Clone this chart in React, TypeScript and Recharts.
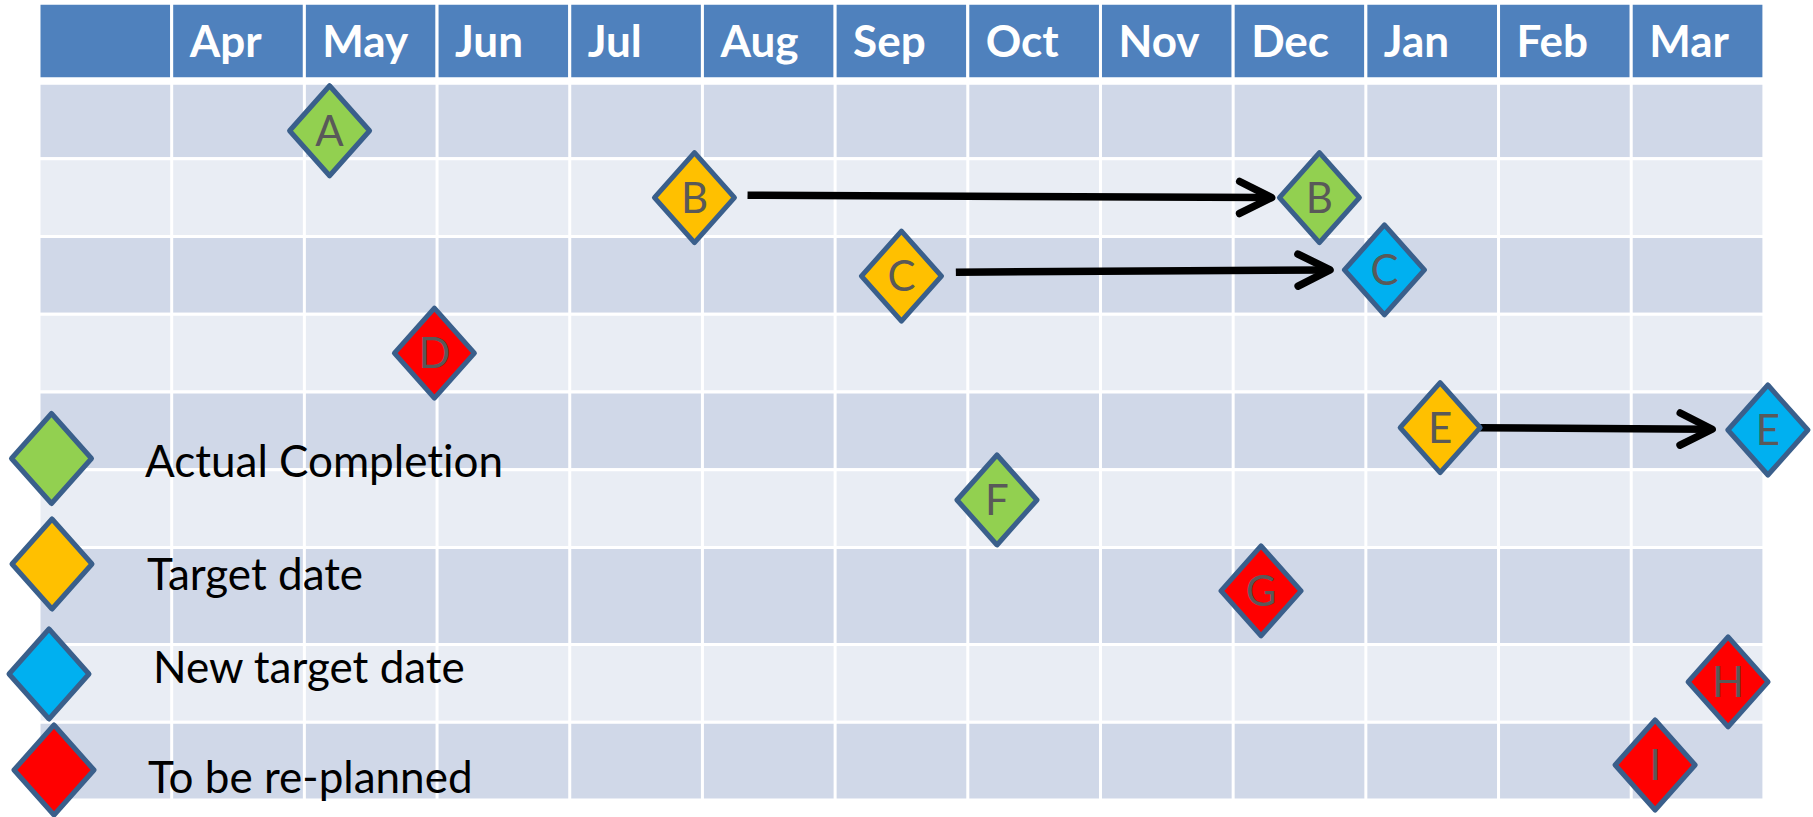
import React from 'react';
import {
  ScatterChart,
  Scatter,
  XAxis,
  YAxis,
  ReferenceArea,
  ReferenceLine,
  Legend,
} from 'recharts';

// ---------- data ----------
const months = ['Apr', 'May', 'Jun', 'Jul', 'Aug', 'Sep', 'Oct', 'Nov', 'Dec', 'Jan', 'Feb', 'Mar'];

// month: 0 = start of Apr, 12 = end of Mar ; row: 0 = top of first task row
const actualCompletion = [
  { task: 'A', month: 1.19, row: 0.64 },
  { task: 'B', month: 8.65, row: 1.5 },
  { task: 'F', month: 6.22, row: 5.39 },
];
const targetDate = [
  { task: 'B', month: 3.94, row: 1.5 },
  { task: 'C', month: 5.5, row: 2.51 },
  { task: 'E', month: 9.56, row: 4.46 },
];
const newTargetDate = [
  { task: 'C', month: 9.14, row: 2.43 },
  { task: 'E', month: 12.03, row: 4.49 },
];
const toBeReplanned = [
  { task: 'D', month: 1.98, row: 3.5 },
  { task: 'G', month: 8.21, row: 6.56 },
  { task: 'H', month: 11.73, row: 7.73 },
  { task: 'I', month: 11.18, row: 8.8 },
];
const reschedules = [
  { task: 'B', from: 4.34, to: 8.29, fromRow: 1.47, toRow: 1.5 },
  { task: 'C', from: 5.91, to: 8.73, fromRow: 2.46, toRow: 2.43 },
  { task: 'E', from: 9.86, to: 11.61, fromRow: 4.46, toRow: 4.48 },
];

// ---------- layout / style ----------
const W = 1813;
const H = 817;
const ROW_EDGES = [0.03, 1, 2, 3, 4, 5, 6, 7.25, 8.25, 9.25];
const HEADER = '#4F81BD';
const DARK = '#D0D8E8';
const LIGHT = '#E9EDF4';
const EDGE = '#3A5F8B';
const FONT = 'Lato, "Open Sans", sans-serif';
const NO_LIG: React.CSSProperties = { fontVariantLigatures: 'none', fontFeatureSettings: '"liga" 0, "clig" 0' };

const COLORS = {
  actual: '#92D050',
  target: '#FFC000',
  newTarget: '#00B0F0',
  replan: '#FF0000',
};

const LEGEND_TOP = 380;
const LEGEND_LAYOUT: Record<string, { dx: number; dy: number; tx: number; ty: number }> = {
  'Actual Completion': { dx: 51.5, dy: 458.5, tx: 145, ty: 477 },
  'Target date': { dx: 52, dy: 564, tx: 147, ty: 590 },
  'New target date': { dx: 49, dy: 674, tx: 153, ty: 683 },
  'To be re-planned': { dx: 54, dy: 770, tx: 148, ty: 793 },
};

const diamondPath = (cx: number, cy: number) =>
  `M${cx},${cy - 45} L${cx + 40},${cy} L${cx},${cy + 45} L${cx - 40},${cy} Z`;

const makeDiamond = (color: string) => (props: any) => {
  const { cx, cy, payload } = props;
  if (cx == null || cy == null) return <g />;
  return (
    <g>
      <path d={diamondPath(cx, cy)} fill={color} stroke={EDGE} strokeWidth={5} strokeLinejoin="round" />
      <text x={cx} y={cy + 15} textAnchor="middle" fontFamily={FONT} fontSize={42} fill="#595959">
        {payload?.task}
      </text>
    </g>
  );
};

const ArrowShape = (props: any) => {
  const { x1, y1, x2, y2 } = props;
  if ([x1, y1, x2, y2].some((v) => v == null || isNaN(v))) return <g />;
  const len = Math.hypot(x2 - x1, y2 - y1) || 1;
  const ux = (x2 - x1) / len;
  const uy = (y2 - y1) / len;
  const nx = -uy;
  const ny = ux;
  const bx = x2 - ux * 32;
  const by = y2 - uy * 32;
  return (
    <g>
      <line x1={x1} y1={y1} x2={x2 - ux * 4} y2={y2 - uy * 4} stroke="#000" strokeWidth={7.5} />
      <polyline
        points={`${bx + nx * 16},${by + ny * 16} ${x2},${y2} ${bx - nx * 16},${by - ny * 16}`}
        fill="none"
        stroke="#000"
        strokeWidth={7.5}
        strokeLinecap="round"
        strokeLinejoin="round"
      />
    </g>
  );
};

const renderLegend = (props: any) => {
  const payload = props?.payload ?? [];
  return (
    <svg width={560} height={H - LEGEND_TOP} style={{ overflow: 'visible', display: 'block' }}>
      {payload.map((entry: any) => {
        const l = LEGEND_LAYOUT[entry.value];
        if (!l) return null;
        return (
          <g key={entry.value}>
            <path
              d={diamondPath(l.dx, l.dy - LEGEND_TOP)}
              fill={entry.color}
              stroke={EDGE}
              strokeWidth={5}
              strokeLinejoin="round"
            />
            <text x={l.tx} y={l.ty - LEGEND_TOP} fontFamily={FONT} fontSize={44} fill="#000" style={NO_LIG}>
              {entry.value}
            </text>
          </g>
        );
      })}
    </svg>
  );
};

export default function App() {
  return (
    <div style={{ position: 'absolute', left: 0, top: 0, width: W, height: H, background: '#fff' }}>
      <ScatterChart width={W} height={H} margin={{ top: 3.3, right: 0, bottom: 17, left: 39 }}>
        <XAxis type="number" dataKey="month" domain={[-1, 12.37]} hide />
        <YAxis type="number" dataKey="row" domain={[-1, 9.25]} reversed hide />

        {/* header cells */}
        <ReferenceArea
          x1={-1}
          x2={0}
          y1={-1}
          y2={-0.03}
          fill={HEADER}
          fillOpacity={1}
          stroke="#fff"
          strokeWidth={3}
        />
        {months.map((m, i) => (
          <ReferenceArea
            key={m}
            x1={i}
            x2={i + 1}
            y1={-1}
            y2={-0.03}
            fill={HEADER}
            fillOpacity={1}
            stroke="#fff"
            strokeWidth={3}
            label={{
              value: m,
              position: 'insideLeft',
              offset: 18,
              fill: '#fff',
              fontSize: 44,
              fontWeight: 700,
              fontFamily: FONT,
            }}
          />
        ))}

        {/* task rows */}
        {ROW_EDGES.slice(0, -1).map((edge, i) => (
          <ReferenceArea
            key={`row-${i}`}
            x1={-1}
            x2={12}
            y1={edge}
            y2={ROW_EDGES[i + 1]}
            fill={i % 2 === 0 ? DARK : LIGHT}
            fillOpacity={1}
            stroke="#fff"
            strokeWidth={3}
          />
        ))}
        {months.map((m, i) => (
          <ReferenceLine
            key={`v-${m}`}
            segment={[
              { x: i, y: 0 },
              { x: i, y: 9.25 },
            ]}
            stroke="#fff"
            strokeWidth={3}
          />
        ))}

        {/* reschedule arrows */}
        {reschedules.map((r) => (
          <ReferenceLine
            key={`arrow-${r.task}`}
            segment={[
              { x: r.from, y: r.fromRow },
              { x: r.to, y: r.toRow },
            ]}
            shape={ArrowShape}
          />
        ))}

        <Scatter
          name="Actual Completion"
          data={actualCompletion}
          fill={COLORS.actual}
          shape={makeDiamond(COLORS.actual)}
          isAnimationActive={false}
        />
        <Scatter
          name="Target date"
          data={targetDate}
          fill={COLORS.target}
          shape={makeDiamond(COLORS.target)}
          isAnimationActive={false}
        />
        <Scatter
          name="New target date"
          data={newTargetDate}
          fill={COLORS.newTarget}
          shape={makeDiamond(COLORS.newTarget)}
          isAnimationActive={false}
        />
        <Scatter
          name="To be re-planned"
          data={toBeReplanned}
          fill={COLORS.replan}
          shape={makeDiamond(COLORS.replan)}
          isAnimationActive={false}
        />

        <Legend
          layout="horizontal"
          align="center"
          verticalAlign="middle"
          content={renderLegend}
          wrapperStyle={{ left: 0, top: LEGEND_TOP, width: 560, height: H - LEGEND_TOP, pointerEvents: 'none' }}
        />
      </ScatterChart>
    </div>
  );
}
